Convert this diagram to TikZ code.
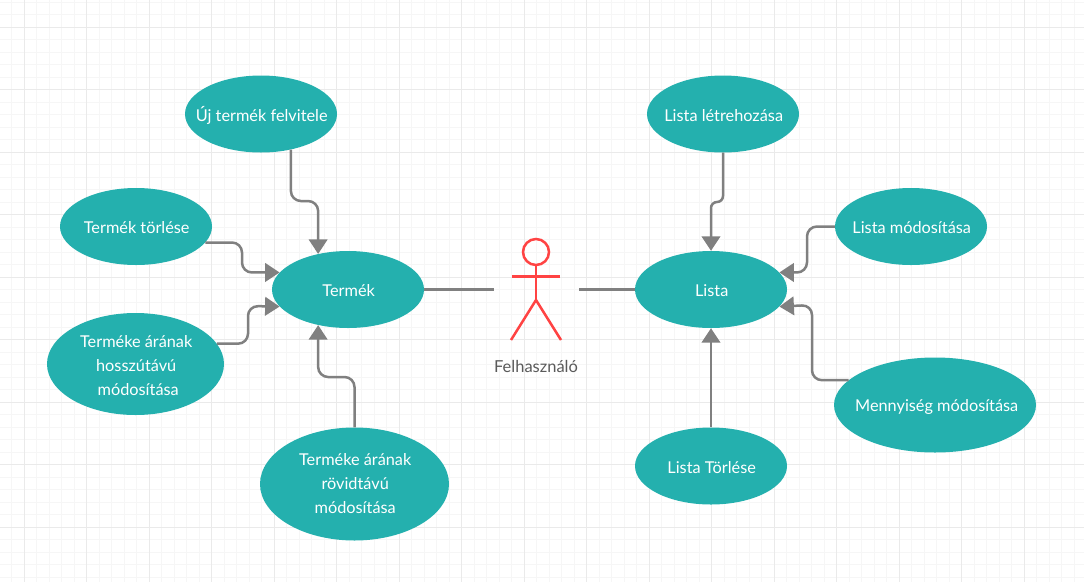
\documentclass[tikz,border=0pt]{standalone}
\usepackage{fontspec}
\setmainfont{Lato}
\usetikzlibrary{arrows.meta,shapes.geometric}
\definecolor{teal1}{HTML}{24B0AE}
\definecolor{conn1}{HTML}{808080}
\definecolor{actor1}{HTML}{FF4343}
\definecolor{gridmaj}{HTML}{EAEAEA}
\definecolor{gridmin}{HTML}{F6F6F6}
\definecolor{label1}{HTML}{5A5A5A}
\tikzset{
  usecase/.style={ellipse,fill=teal1,draw=none,inner sep=0pt},
  casetext/.style={text=white,align=center,inner sep=0pt,yshift=-1.5pt,xshift=0.7pt,font=\fontsize{16.3}{24}\selectfont},
  conn/.style={draw=conn1,line width=2.5pt,rounded corners=10pt,-{Triangle[length=14.5pt,width=18.5pt]}},
  plainconn/.style={draw=conn1,line width=2.2pt},
  actorline/.style={draw=actor1,line width=2.5pt},
  minorgrid/.style={draw=gridmin,line width=1pt},
  majorgrid/.style={draw=gridmaj,line width=1pt},
  heavygrid/.style={draw=gridmaj,line width=1.6pt}
}
\begin{document}
\begin{tikzpicture}[x=1pt,y=-1pt]
\useasboundingbox (0,0) rectangle (1084,582);
\fill[white] (0,0) rectangle (1084,582);
% grid
\foreach \i in {-1,...,86} {\draw[minorgrid] ({11.5+12.5*\i},0) -- ({11.5+12.5*\i},582);}
\foreach \i in {-2,...,46} {\draw[minorgrid] (0,{27+12.5*\i}) -- (1084,{27+12.5*\i});}
\foreach \i in {0,...,17} {\draw[majorgrid] ({24+62.5*\i},0) -- ({24+62.5*\i},582);}
\foreach \i in {0,...,8} {\draw[majorgrid] (0,{27+62.5*\i}) -- (1084,{27+62.5*\i});}
\foreach \xx in {86.5,336.5,586.5,836.5} {\draw[heavygrid] (\xx,0) -- (\xx,582);}
\foreach \yy in {89.5,339.5} {\draw[heavygrid] (0,\yy) -- (1084,\yy);}
% use cases
\node[usecase,minimum width=152pt,minimum height=77pt,label={[casetext]center:Új termék felvitele}] (uj) at (261,114) {};
\node[usecase,minimum width=152pt,minimum height=77pt,label={[casetext]center:Termék törlése}] (torles) at (136,226.5) {};
\node[usecase,minimum width=152pt,minimum height=77pt,label={[casetext]center:Termék}] (termek) at (348,289.5) {};
\node[usecase,minimum width=177pt,minimum height=102pt,label={[casetext]center:Terméke árának\\hosszútávú\\\hspace*{4pt}módosítása}] (hosszu) at (135.5,364) {};
\node[usecase,minimum width=189pt,minimum height=113pt,label={[casetext,yshift=2pt]center:Terméke árának\\rövidtávú\hspace*{18pt}\\módosítása}] (rovid) at (354.5,484) {};
\node[usecase,minimum width=152pt,minimum height=77pt,label={[casetext]center:Lista létrehozása}] (letre) at (723,114) {};
\node[usecase,minimum width=152pt,minimum height=77pt,label={[casetext]center:Lista módosítása}] (listamod) at (911,226.5) {};
\node[usecase,minimum width=152pt,minimum height=77pt,label={[casetext]center:Lista}] (lista) at (711,289.5) {};
\node[usecase,minimum width=202pt,minimum height=95pt,label={[casetext,xshift=1pt]center:Mennyiség módosítása}] (menny) at (935,405) {};
\node[usecase,minimum width=152pt,minimum height=77pt,label={[casetext]center:Lista Törlése}] (listator) at (711,466) {};
% actor
\coordinate (head) at (536,252);
\coordinate (neck) at (536,265);
\coordinate (hip) at (536,300);
\coordinate (armL) at (512,276.5);
\coordinate (armR) at (560,276.5);
\coordinate (legL) at (511,340);
\coordinate (legR) at (561,340);
\draw[actorline] (head) circle[radius=13pt];
\draw[actorline] (neck) -- (hip);
\draw[actorline] (armL) -- (armR);
\draw[actorline] (legL) -- (hip) -- (legR);
\node[text=label1,font=\fontsize{16.5}{18}\selectfont,inner sep=0pt] (felh) at (536,366) {Felhasználó};
% connectors
\coordinate (actL) at (494,289.5);
\coordinate (actR) at (579,289.5);
\draw[plainconn] (termek.east) -- (actL);
\draw[plainconn] (lista.west) -- (actR);
\draw[conn] (uj.-50.4) -- (uj.-50.4 |- 0,201) -- (termek.130 |- 0,201) -- (termek.130);
\draw[conn] (torles.-13) -- (torles.-13 -| 242,0) -- (242,272.5) -- (termek.166);
\draw[conn] (hosszu.14.7) -- (hosszu.14.7 -| 248,0) -- (248,306) -- (termek.-166);
\draw[conn] (rovid.north) -- (rovid.north |- 0,377) -- (termek.-130 |- 0,377) -- (termek.-130);
\draw[conn,rounded corners=6pt] (letre.south) -- (letre.south |- 0,202) -- (lista.north |- 0,202) -- (lista.north);
\draw[conn] (listamod.west) -- (listamod.west -| 807,0) -- (807,272.5) -- (lista.14);
\draw[conn] (menny.164) -- (menny.164 -| 812,0) -- (812,305) -- (lista.-14);
\draw[conn] (listator.north) -- (lista.south);
\end{tikzpicture}
\end{document}
